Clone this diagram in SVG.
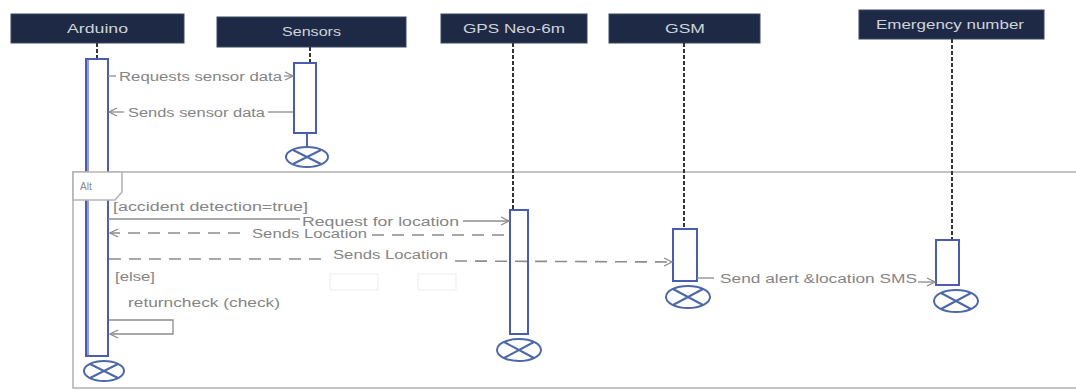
<svg xmlns="http://www.w3.org/2000/svg" width="1076" height="390" viewBox="0 0 1076 390">
<style>
.hdr{fill:#1e2a45;stroke:#3a4660;stroke-width:1}
.ht{font-family:"Liberation Sans",Arial,sans-serif;font-size:13px;fill:#cfd3dc;text-anchor:start}
.life{stroke:#333;stroke-width:2;stroke-dasharray:4 2;fill:none}
.act{fill:#fff;stroke:#4a5cb0;stroke-width:2}
.des{fill:none;stroke:#4d68a8;stroke-width:2}
.msg{stroke:#8c8c8c;stroke-width:1.3;fill:none}
.dash{stroke:#8c8c8c;stroke-width:1.6;fill:none;stroke-dasharray:12 8}
.mt{font-family:"Liberation Sans",Arial,sans-serif;font-size:12.5px;fill:#858585}
.frame{fill:none;stroke:#b5b5b5;stroke-width:1.6}
.faint{fill:none;stroke:#f0f0f0;stroke-width:1.2}
</style>
<defs>
<marker id="open" markerWidth="10" markerHeight="10" refX="9" refY="5" orient="auto" markerUnits="userSpaceOnUse">
<polyline points="1,1 9,5 1,9" fill="none" stroke="#8c8c8c" stroke-width="1.3"/>
</marker>
</defs>
<rect width="1076" height="390" fill="#fff"/>

<g id="frame-alt">
<rect class="frame" x="73" y="172" width="1010" height="216"/>
<text class="mt" x="113" y="211" textLength="195" lengthAdjust="spacingAndGlyphs">[accident detection=true]</text>
<text class="mt" x="115" y="281" textLength="40" lengthAdjust="spacingAndGlyphs">[else]</text>
<rect class="faint" x="330" y="274" width="48" height="16"/>
<rect class="faint" x="418" y="274" width="38" height="16"/>
</g>

<g id="arduino">
<rect class="hdr" x="11" y="14" width="173" height="29"/>
<text class="ht" x="67" y="33" textLength="61" lengthAdjust="spacingAndGlyphs">Arduino</text>
<line class="life" x1="97" y1="43" x2="97" y2="59"/>
<rect class="act" x="86" y="59" width="22" height="297"/>
<line x1="88" y1="60" x2="88" y2="355" stroke="#4a5cb0" stroke-width="1.2"/>
<ellipse class="des" cx="104" cy="371" rx="20" ry="10"/>
<path class="des" d="M90,364 L118,378 M90,378 L118,364"/>
</g>

<g id="alt-tab">
<path d="M73,172 H122 V192 L115,200 H73 Z" fill="#fff" stroke="#b5b5b5" stroke-width="1.6"/>
<text x="80" y="190" font-family="Liberation Sans,Arial,sans-serif" font-size="10" fill="#888">Alt</text>
</g>

<g id="sensors">
<rect class="hdr" x="217" y="17" width="189" height="30"/>
<text class="ht" x="282" y="36" textLength="59" lengthAdjust="spacingAndGlyphs">Sensors</text>
<line class="life" x1="310" y1="47" x2="310" y2="63"/>
<rect class="act" x="294" y="63" width="22" height="70"/>
<line x1="307" y1="133" x2="307" y2="147" stroke="#4d68a8" stroke-width="2"/>
<ellipse class="des" cx="307" cy="157" rx="21" ry="10"/>
<path class="des" d="M293,150 L321,164 M293,164 L321,150"/>
</g>

<g id="gps">
<rect class="hdr" x="441" y="14" width="146" height="29"/>
<text class="ht" x="463" y="33" textLength="102" lengthAdjust="spacingAndGlyphs">GPS Neo-6m</text>
<line class="life" x1="513" y1="43" x2="513" y2="210"/>
<rect class="act" x="510" y="210" width="18" height="124"/>
<ellipse class="des" cx="519" cy="350" rx="22" ry="11"/>
<path class="des" d="M504,342 L534,358 M504,358 L534,342"/>
</g>

<g id="gsm">
<rect class="hdr" x="609" y="14" width="151" height="29"/>
<text class="ht" x="665" y="33" textLength="40" lengthAdjust="spacingAndGlyphs">GSM</text>
<line class="life" x1="684" y1="43" x2="684" y2="229"/>
<rect class="act" x="673" y="229" width="24" height="52"/>
<ellipse class="des" cx="688" cy="297" rx="22" ry="11"/>
<path class="des" d="M673,289 L703,305 M673,305 L703,289"/>
</g>

<g id="emergency">
<rect class="hdr" x="859" y="10" width="185" height="29"/>
<text class="ht" x="876" y="29" textLength="148" lengthAdjust="spacingAndGlyphs">Emergency number</text>
<line class="life" x1="952" y1="39" x2="952" y2="240"/>
<rect class="act" x="936" y="240" width="23" height="45"/>
<ellipse class="des" cx="956" cy="301" rx="22" ry="11"/>
<path class="des" d="M941,293 L971,309 M941,309 L971,293"/>
</g>

<g id="connectors">
<line class="msg" x1="108" y1="76" x2="116" y2="76"/>
<line class="msg" x1="284" y1="76" x2="293" y2="76" marker-end="url(#open)"/>
<text class="mt" x="119" y="81" textLength="163" lengthAdjust="spacingAndGlyphs">Requests sensor data</text>
<line class="msg" x1="268" y1="112" x2="293" y2="112"/>
<line class="msg" x1="124" y1="112" x2="109" y2="112" marker-end="url(#open)"/>
<text class="mt" x="128" y="117" textLength="137" lengthAdjust="spacingAndGlyphs">Sends sensor data</text>
<line class="msg" x1="108" y1="219" x2="300" y2="219"/>
<line class="msg" x1="463" y1="221" x2="509" y2="221" marker-end="url(#open)"/>
<text class="mt" x="302" y="226" textLength="157" lengthAdjust="spacingAndGlyphs">Request for location</text>
<line class="dash" x1="240" y1="233" x2="110" y2="233" marker-end="url(#open)"/>
<line class="dash" x1="372" y1="235" x2="509" y2="235"/>
<text class="mt" x="252" y="238" textLength="115" lengthAdjust="spacingAndGlyphs">Sends Location</text>
<line class="dash" x1="109" y1="259" x2="328" y2="259"/>
<line class="dash" x1="455" y1="261" x2="672" y2="262" marker-end="url(#open)"/>
<text class="mt" x="333" y="259" textLength="115" lengthAdjust="spacingAndGlyphs">Sends Location</text>
<text class="mt" x="128" y="307" textLength="152" lengthAdjust="spacingAndGlyphs">returncheck (check)</text>
<polyline class="msg" points="109,320 173,320 173,334 110,334" marker-end="url(#open)"/>
<line class="msg" x1="697" y1="278" x2="714" y2="278"/>
<line class="msg" x1="918" y1="282" x2="935" y2="282" marker-end="url(#open)"/>
<text class="mt" x="720" y="283" textLength="197" lengthAdjust="spacingAndGlyphs">Send alert &amp;location SMS</text>
</g>
</svg>
